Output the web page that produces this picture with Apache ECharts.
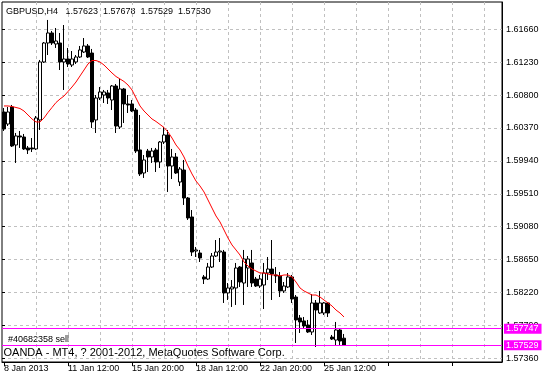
<!DOCTYPE html>
<html><head><meta charset="utf-8">
<script src="https://cdn.jsdelivr.net/npm/echarts@6/dist/echarts.min.js"></script>
<style>html,body{margin:0;padding:0;background:#fff}#c{width:542px;height:379px}</style>
</head><body><div id="c"></div>
<script>
// ---- data ----
const headerText = 'GBPUSD,H4   1.57623  1.57678  1.57529  1.57530';
const orderText = '#40682358 sell';
const copyrightText = 'OANDA - MT4, ? 2001-2012, MetaQuotes Software Corp.';
const opens = [1.60579,1.60422,1.60645,1.60148,1.60266,1.60252,1.60109,1.60109,1.60096,1.60475,
 1.61233,1.61481,1.61612,1.61468,1.61481,1.61233,1.61272,1.61193,1.61233,1.61298,
 1.61363,1.61442,1.61350,1.60475,1.60762,1.60801,1.60828,1.60736,1.60919,1.60383,
 1.60880,1.60684,1.60684,1.60605,1.60083,1.59782,1.60069,1.59991,1.60083,1.59926,
 1.60187,1.60279,1.59873,1.59991,1.59664,1.59821,1.59455,1.59207,1.58762,1.58736,
 1.58423,1.58396,1.58553,1.58697,1.58749,1.58749,1.58214,1.58266,1.58279,1.58553,
 1.58344,1.58540,1.58606,1.58396,1.58305,1.58318,1.58475,1.58527,1.58449,1.58436,
 1.58240,1.58292,1.58423,1.58161,1.57887,1.57848,1.57795,1.57704,1.58083,1.57952,
 1.57952,1.58083,1.57638,1.57599,1.57730,1.57623];
const highs = [1.60631,1.60645,1.60671,1.60305,1.60331,1.60292,1.60135,1.60239,1.60527,1.61259,
 1.61494,1.61782,1.61638,1.61677,1.61612,1.61716,1.61416,1.61376,1.61324,1.61442,
 1.61546,1.61468,1.61403,1.60801,1.60906,1.60867,1.60867,1.60932,1.60945,1.61011,
 1.60893,1.60801,1.60736,1.60631,1.60540,1.60017,1.60096,1.60109,1.60109,1.60200,
 1.60383,1.60344,1.60096,1.60043,1.59860,1.59952,1.59468,1.59298,1.58815,1.58776,
 1.58449,1.58606,1.58736,1.58906,1.58932,1.58776,1.58344,1.58383,1.58606,1.58566,
 1.58776,1.58697,1.58776,1.58423,1.58449,1.58606,1.58684,1.58906,1.58553,1.58488,
 1.58357,1.58475,1.58449,1.58187,1.57926,1.57900,1.57861,1.58200,1.58122,1.58240,
 1.58096,1.58096,1.57665,1.57835,1.57756,1.57678];
const lows = [1.60331,1.60396,1.60122,1.59913,1.60109,1.60083,1.60030,1.60056,1.60083,1.60344,
 1.61220,1.61324,1.61455,1.61416,1.61128,1.60867,1.61167,1.61167,1.61207,1.61285,
 1.61350,1.61285,1.60370,1.60305,1.60736,1.60697,1.60684,1.60605,1.60305,1.60357,
 1.60435,1.60566,1.60579,1.60043,1.59743,1.59717,1.59795,1.59913,1.59795,1.59847,
 1.60161,1.59534,1.59703,1.59769,1.59612,1.59364,1.59168,1.58697,1.58684,1.58619,
 1.58331,1.58383,1.58540,1.58684,1.58619,1.58083,1.58122,1.58031,1.58057,1.58292,
 1.58057,1.58292,1.58292,1.58292,1.58279,1.58004,1.58383,1.58122,1.58344,1.58161,
 1.58214,1.58279,1.58083,1.57560,1.57691,1.57756,1.57691,1.57665,1.57508,1.57939,
 1.57926,1.57900,1.57599,1.57521,1.57534,1.57529];
const closes = [1.60357,1.60579,1.60135,1.60266,1.60252,1.60096,1.60083,1.60096,1.60501,1.61233,
 1.61481,1.61612,1.61481,1.61507,1.61233,1.61272,1.61207,1.61272,1.61298,1.61390,
 1.61442,1.61298,1.60449,1.60762,1.60841,1.60841,1.60762,1.60919,1.60396,1.60880,
 1.60684,1.60671,1.60592,1.60069,1.59769,1.59952,1.59991,1.60069,1.59926,1.60187,
 1.60279,1.59873,1.59991,1.59782,1.59834,1.59455,1.59194,1.58749,1.58776,1.58671,
 1.58396,1.58553,1.58697,1.58749,1.58762,1.58214,1.58279,1.58292,1.58540,1.58357,
 1.58658,1.58658,1.58344,1.58305,1.58396,1.58475,1.58527,1.58462,1.58436,1.58240,
 1.58305,1.58423,1.58135,1.57861,1.57835,1.57782,1.57704,1.58083,1.57991,1.58083,
 1.58083,1.57952,1.57612,1.57730,1.57586,1.57530];
const maValues = [1.60658,1.60658,1.60651,1.60638,1.60625,1.60592,1.60540,1.60488,1.60449,1.60449,
 1.60501,1.60573,1.60638,1.60703,1.60749,1.60788,1.60847,1.60906,1.60971,1.61050,
 1.61128,1.61207,1.61252,1.61252,1.61233,1.61193,1.61141,1.61089,1.61043,1.61011,
 1.60978,1.60932,1.60867,1.60762,1.60658,1.60592,1.60540,1.60488,1.60455,1.60416,
 1.60377,1.60318,1.60239,1.60148,1.60083,1.59991,1.59873,1.59769,1.59677,1.59612,
 1.59534,1.59429,1.59324,1.59220,1.59142,1.59037,1.58932,1.58841,1.58776,1.58710,
 1.58619,1.58566,1.58527,1.58501,1.58475,1.58475,1.58462,1.58449,1.58449,1.58436,
 1.58449,1.58449,1.58423,1.58357,1.58279,1.58240,1.58214,1.58187,1.58187,1.58161,
 1.58122,1.58083,1.58044,1.57991,1.57952,1.57900];
const xTickLabels = ['8 Jan 2013','11 Jan 12:00','15 Jan 20:00','18 Jan 12:00','22 Jan 20:00','25 Jan 12:00'];
const yTickLabels = ['1.57360','1.57790','1.58220','1.58650','1.59080','1.59510','1.59940','1.60370','1.60800','1.61230','1.61660'];
const orderLevel = 1.57747;
const bidLevel = 1.57529;
const priceMin = 1.573116, priceMax = 1.620168;
const slotCount = 125;
const barsPerLabel = 16, barsPerGrid = 8;

// ---- chart ----
const FONT = '"Liberation Sans", Arial, sans-serif';
const MAGENTA = '#ff00ff';
const slots = Array.from({length: slotCount}, (_, i) => String(i));
const candles = opens.map((o, i) => [o, closes[i], lows[i], highs[i]]);
const levelLine = (v) => ({yAxis: v, lineStyle: {color: MAGENTA, width: 1, type: 'solid', opacity: 1}});
const chart = echarts.init(document.getElementById('c'), null, {renderer: 'canvas'});
chart.setOption({
  animation: false,
  backgroundColor: '#ffffff',
  grid: [
    {left: 2, right: 40, top: 2, bottom: 17, show: true, borderColor: '#000', borderWidth: 1},
    {left: 2, right: 40, top: 29.3, bottom: 20.7, show: false}
  ],
  xAxis: [
    {gridIndex: 0, type: 'category', data: slots, boundaryGap: true,
     axisLine: {show: true, lineStyle: {color: '#000', width: 1}},
     axisTick: {show: true, alignWithLabel: true, interval: barsPerLabel - 1, length: 4, lineStyle: {color: '#000'}},
     axisLabel: {show: true, interval: barsPerLabel - 1, align: 'left', margin: 2, color: '#000', fontSize: 9, fontFamily: FONT,
       formatter: (v, i) => (i % barsPerLabel === 0 ? (xTickLabels[i / barsPerLabel] || '') : '')},
     splitLine: {show: true, alignWithLabel: true, interval: (i) => i > 0 && i % barsPerGrid === 0,
       lineStyle: {color: '#c0c0c0', width: 1, type: [3, 3]}}},
    {gridIndex: 1, type: 'value', min: 0, max: 1, show: false}
  ],
  yAxis: [
    {gridIndex: 0, type: 'value', position: 'right', min: priceMin, max: priceMax, scale: true,
     axisLine: {show: true, lineStyle: {color: '#000'}}, axisTick: {show: false}, axisLabel: {show: false}, splitLine: {show: false}},
    {gridIndex: 1, type: 'value', position: 'right', min: 0, max: yTickLabels.length - 1, interval: 1,
     axisLine: {show: false},
     axisTick: {show: true, length: 3, lineStyle: {color: '#000'}},
     axisLabel: {show: true, margin: 4, color: '#000', fontSize: 9, fontFamily: FONT,
       formatter: (v) => yTickLabels[Math.round(v)] || ''},
     splitLine: {show: true, lineStyle: {color: '#c0c0c0', width: 1, type: [3, 3]}}}
  ],
  series: [
    {type: 'candlestick', xAxisIndex: 0, yAxisIndex: 0, data: candles, barWidth: 3,
     itemStyle: {color: '#ffffff', color0: '#000000', borderColor: '#000000', borderColor0: '#000000', borderWidth: 1}},
    {type: 'line', xAxisIndex: 0, yAxisIndex: 0, data: maValues, showSymbol: false, symbol: 'none',
     lineStyle: {color: '#ff0000', width: 1},
     markLine: {silent: true, animation: false, symbol: ['none', 'none'], precision: 5, z: 10,
       lineStyle: {color: MAGENTA, width: 1, type: 'solid'},
       label: {show: true, position: 'end', distance: 2, color: '#ffffff', backgroundColor: MAGENTA,
         fontSize: 9, fontFamily: FONT, padding: [1, 3, 0, 2], formatter: (p) => Number(p.value).toFixed(5)},
       emphasis: {disabled: true},
       data: [levelLine(orderLevel), levelLine(bidLevel)]}}
  ],
  graphic: [
    {type: 'text', x: 6, y: 12, silent: true, style: {text: headerText, fill: '#000', font: '9px ' + FONT, verticalAlign: 'middle', align: 'left'}},
    {type: 'text', x: 8, y: 339.5, silent: true, style: {text: orderText, fill: '#000', font: '9px ' + FONT, verticalAlign: 'middle', align: 'left'}},
    {type: 'text', x: 3.5, y: 353, silent: true, style: {text: copyrightText, fill: '#000', font: '11px ' + FONT, verticalAlign: 'middle', align: 'left'}}
  ]
});
</script></body></html>
